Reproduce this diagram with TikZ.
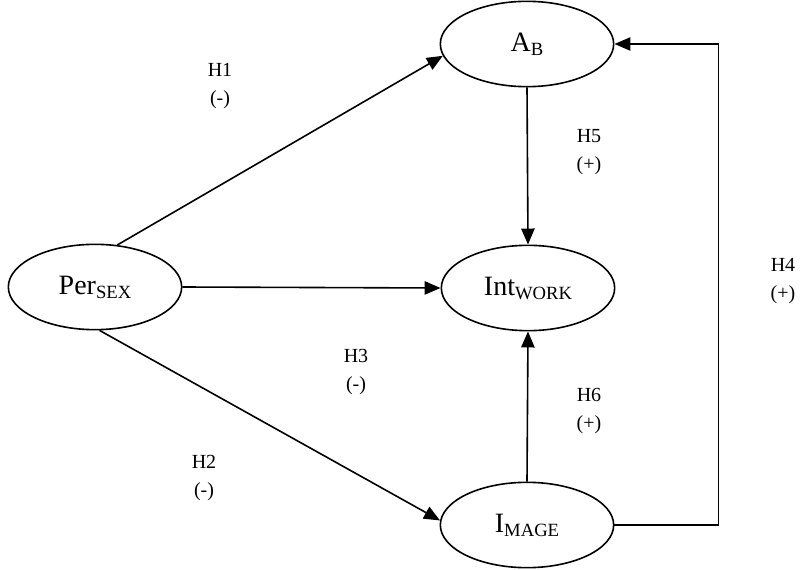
\documentclass[tikz,border=0pt]{standalone}
\usepackage{fontspec}
\setmainfont{Liberation Serif}
\usetikzlibrary{arrows.meta, shapes.geometric}

% lowered small subscript used inside the construct names
\newcommand{\lowsub}[1]{\raisebox{-3pt}{\fontsize{14}{14}\selectfont #1}}

\begin{document}
\begin{tikzpicture}[x=0.75pt, y=-0.75pt,
    construct/.style={draw, line width=1.2pt, ellipse, minimum width=130pt, minimum height=64pt, inner sep=0pt, font=\fontsize{21}{21}\selectfont},
    link/.style={-{Triangle[length=12pt,width=10pt]}, line width=1.2pt},
    hyp/.style={align=center, font=\fontsize{15}{21.5}\selectfont}]
    \useasboundingbox (0,0) rectangle (804,570);

    % Constructs
    \node[construct] (ab) at (527,44) {A\lowsub{B}};
    \node[construct] (per) at (95,287) {Per\lowsub{SEX}};
    \node[construct] (int) at (528,288) {Int\lowsub{WORK}};
    \node[construct] (img) at (527,525) {I\lowsub{MAGE}};

    % Paths
    \draw[link] (per.62) -- (ab.188);
    \draw[link] (per.east) -- (int.west);
    \draw[link] (per.-84) -- (img.177);
    \draw[link] (ab.south) -- (int.north);
    \draw[link] (img.north) -- (int.south);
    \draw[link] (img.east) -- ++(104,0) |- (ab.east);

    % Hypotheses
    \node[hyp] (h1) at (220,86) {H1\\(-)};
    \node[hyp] (h2) at (204,478) {H2\\(-)};
    \node[hyp] (h3) at (356,372) {H3\\(-)};
    \node[hyp] (h4) at (783,281) {H4\\(+)};
    \node[hyp] (h5) at (589,152) {H5\\(+)};
    \node[hyp] (h6) at (589,411) {H6\\(+)};
\end{tikzpicture}
\end{document}
